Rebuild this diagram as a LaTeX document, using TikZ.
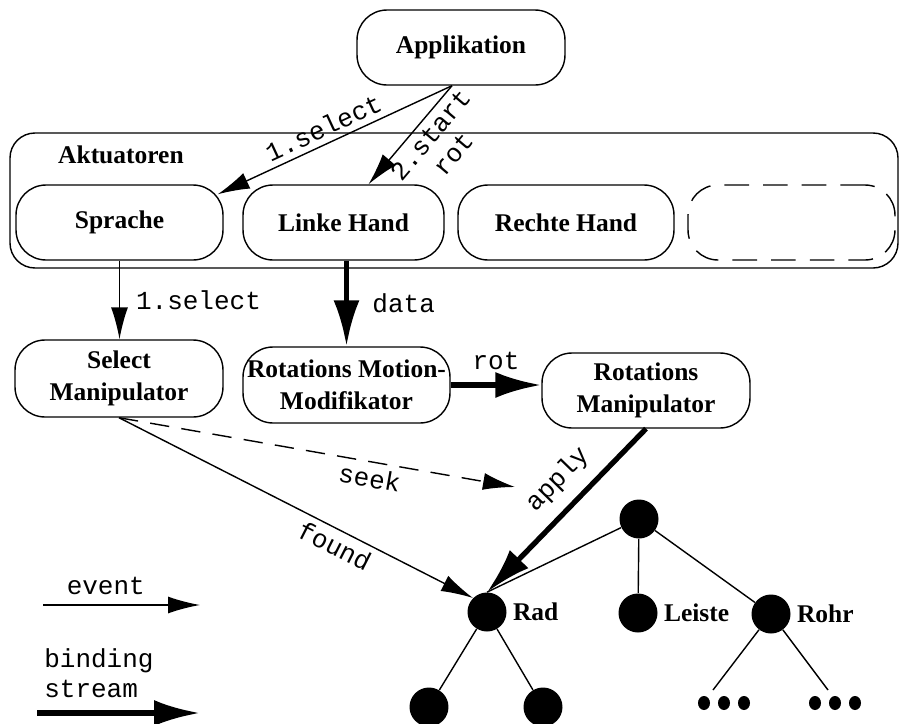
\documentclass[tikz,border=0pt]{standalone}
\usepackage{fontspec}
\setmainfont{Liberation Serif}
\setmonofont{Liberation Mono}
\usetikzlibrary{arrows.meta}

\tikzset{
  box/.style={draw, line width=0.8pt, rounded corners=0.6cm, minimum height=1.5cm,
    align=center, font=\bfseries\fontsize{14.5}{18.5}\selectfont},
  lbl/.style={font=\ttfamily\fontsize{14.8}{17}\selectfont},
  ev/.style={line width=0.8pt, -{Latex[length=0.64cm,width=0.34cm]}},
  bind/.style={line width=3pt, -{Latex[length=0.92cm,width=0.52cm]}},
  knot/.style={circle, fill=black, minimum size=0.78cm, inner sep=0pt},
  knotlbl/.style={font=\bfseries\fontsize{14.5}{17}\selectfont},
}

\begin{document}
\begin{tikzpicture}[x=0.02cm, y=-0.02cm]
\useasboundingbox (0,0) rectangle (900,724);

% Aktuatoren
\draw[line width=0.8pt, rounded corners=0.5cm] (10,133) rectangle (898,268);
\node[anchor=west, knotlbl] (akt) at (52,155) {Aktuatoren};

\node[box, minimum width=4.16cm] (app) at (461,47.5) {Applikation};
\node[box, minimum width=4.14cm] (spr) at (119.5,222.5) {Sprache};
\node[box, minimum width=4.02cm] (lh) at (343.5,222.5) {Linke Hand};
\node[box, minimum width=4.32cm] (rh) at (566,222.5) {Rechte Hand};
\node[box, minimum width=4.14cm, dash pattern=on 14pt off 8pt] (free) at (791.5,222.5) {};

\node[box, minimum width=4.16cm, minimum height=1.54cm] (sm) at (119,378.5) {Select\\Manipulator};
\node[box, minimum width=4.14cm, minimum height=1.52cm, inner xsep=0pt] (rmm) at (346.5,385) {Rotations Motion-\\Modifikator};
\node[box, minimum width=4.16cm] (rm) at (646,390.5) {Rotations\\Manipulator};

% Baum
\node[knot] (root) at (639,519) {};
\node[knot, label={[knotlbl]right:Rad}] (rad) at (487,612) {};
\node[knot, label={[knotlbl]right:Leiste}] (leiste) at (638,613) {};
\node[knot, label={[knotlbl]right:Rohr}] (rohr) at (771,614) {};
\node[knot] (c1) at (429,707) {};
\node[knot] (c2) at (543,707) {};
\coordinate (d1) at (713,690);
\coordinate (d2) at (828,690);
\foreach \x in {704,724,744,815,835,855}
  \fill (\x,703) ellipse [x radius=0.12cm, y radius=0.14cm];

\draw[line width=0.8pt] (root) -- (rad.north) (root) -- (leiste) (root) -- (rohr)
  (rad) -- (c1) (rad) -- (c2) (rohr) -- (d1) (rohr) -- (d2);

% Verbindungen
\coordinate (appout) at ([xshift=-0.18cm]app.south);
\draw[ev] (appout) -- ([xshift=-0.12cm,yshift=-0.2cm]spr.north east)
  node[lbl, sloped, above, pos=0.52] {1.select};
\draw[ev] (appout) -- ([xshift=0.5cm]lh.north)
  node[lbl, sloped, below, pos=0.4, align=center] {2.start\\rot};
\draw[ev] (spr.south) -- (spr.south |- sm.north)
  node[lbl, right, midway, xshift=0.2cm] {1.select};
\draw[bind] (rmm.north |- lh.south) -- (rmm.north)
  node[lbl, right, midway, xshift=0.35cm] {data};
\draw[bind] (rmm.east) -- (rmm.east -| rm.west)
  node[lbl, above=4pt, midway] {rot};
\coordinate (seekend) at (515,487);
\draw[ev, dash pattern=on 11pt off 7pt] (sm.south) -- (seekend)
  node[lbl, sloped, below, pos=0.64] {seek};
\draw[ev] (sm.south) -- (rad.north west)
  node[lbl, sloped, below, pos=0.63] {found};
\draw[bind] (rm.south) -- (rad.north)
  node[lbl, sloped, above=4pt, pos=0.43] {apply};

% Legende
\coordinate (ev1) at (43,605);
\coordinate (ev2) at (200,605);
\draw[ev] (ev1) -- (ev2) node[lbl, above=2pt, pos=0.4] {event};
\coordinate (bs1) at (37,713);
\coordinate (bs2) at (200,713);
\draw[bind] (bs1) -- (bs2) node[lbl, above=4pt, pos=0.38, align=left] {binding\\stream};

\end{tikzpicture}
\end{document}
